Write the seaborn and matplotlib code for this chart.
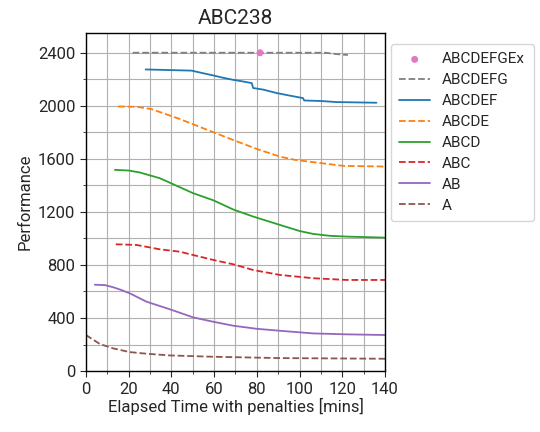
import matplotlib
matplotlib.use('Agg')
import matplotlib.pyplot as plt
from matplotlib.ticker import MultipleLocator
import seaborn as sns
import pandas as pd

# data (x = minutes, y = performance)
a_x = [0, 6.6, 12.8, 20.6, 28.4, 39.3, 59.6, 90.8, 140]
a_y = [272, 204, 171, 143, 131, 118, 108, 98, 93]

ab_x = [4.2, 9, 12.8, 16.5, 20.6, 28.4, 39.3, 50.2, 59.6, 69, 79.9, 90.8, 106.4, 122, 140]
ab_y = [651, 648, 632, 612, 586, 523, 466, 405, 372, 342, 319, 304, 284, 277, 272]

abc_x = [14, 23.7, 34.6, 44, 50.2, 59.6, 69, 78.3, 90.8, 106.4, 122, 140]
abc_y = [956, 951, 918, 900, 875, 838, 805, 762, 725, 700, 687, 687]

abcd_x = [13.6, 20, 25.3, 34.6, 50.2, 59.6, 69, 78.3, 90.8, 100, 106.4, 114, 122, 140]
abcd_y = [1517, 1512, 1497, 1454, 1341, 1288, 1218, 1165, 1102, 1056, 1034, 1020, 1014, 1006]

abcde_x = [15.1, 24, 30.7, 44, 59.6, 68.8, 79.9, 90.8, 98, 106.4, 120.5, 140]
abcde_y = [1995, 1992, 1975, 1900, 1801, 1743, 1675, 1617, 1592, 1575, 1547, 1542]

abcdef_x = [28, 49.5, 55, 59.6, 64, 68.8, 73, 77.6, 78.3, 83, 89.3, 95, 101.6, 102.2,
            110, 117.4, 136]
abcdef_y = [2274, 2265, 2245, 2229, 2212, 2196, 2185, 2171, 2134, 2122, 2096, 2078, 2058,
            2040, 2036, 2028, 2023]

abcdefg_x = [21.9, 112, 117, 122.6]
abcdefg_y = [2400, 2400, 2390, 2383]

ex_x = [81.5]
ex_y = [2400]

series = [
    ('ABCDEFG', abcdefg_x, abcdefg_y, 'tab:gray', '--'),
    ('ABCDEF', abcdef_x, abcdef_y, 'tab:blue', '-'),
    ('ABCDE', abcde_x, abcde_y, 'tab:orange', '--'),
    ('ABCD', abcd_x, abcd_y, 'tab:green', '-'),
    ('ABC', abc_x, abc_y, 'tab:red', '--'),
    ('AB', ab_x, ab_y, 'tab:purple', '-'),
    ('A', a_x, a_y, 'tab:brown', '--'),
]

sns.set_style('white')
plt.rcParams['font.family'] = ['Roboto', 'DejaVu Sans']

fig = plt.figure(figsize=(5.4, 4.32), dpi=100)
ax = fig.add_axes([0.159, 0.141, 0.554, 0.783])

sns.scatterplot(x=ex_x, y=ex_y, ax=ax, color='tab:pink', s=25,
                edgecolor='none', label='ABCDEFGEx', zorder=3)
for name, xs, ys, color, ls in series:
    df = pd.DataFrame({'x': xs, 'y': ys})
    sns.lineplot(data=df, x='x', y='y', ax=ax, color=color,
                 linestyle=ls, linewidth=1.3, label=name)

ax.set_xlim(0, 140)
ax.set_ylim(0, 2550)
ax.xaxis.set_major_locator(MultipleLocator(20))
ax.xaxis.set_minor_locator(MultipleLocator(10))
ax.yaxis.set_major_locator(MultipleLocator(400))
ax.yaxis.set_minor_locator(MultipleLocator(200))
ax.grid(True, which='both', color='#b0b0b0', linewidth=0.8)
ax.tick_params(axis='both', which='major', labelsize=12, length=4, direction='out',
               left=True, bottom=True)
ax.tick_params(axis='both', which='minor', length=2, left=True, bottom=True)
for sp in ax.spines.values():
    sp.set_color('black')
    sp.set_linewidth(1)

ax.set_title('ABC238', fontsize=15)
ax.set_xlabel('Elapsed Time with penalties [mins]', fontsize=12, labelpad=1)
ax.set_ylabel('Performance', fontsize=12)

ax.legend(loc='upper left', bbox_to_anchor=(1.02, 0.967), fontsize=11,
          frameon=True, borderaxespad=0, labelspacing=0.45, borderpad=0.55)

fig.savefig('out.png', dpi=100)
plt.close(fig)
